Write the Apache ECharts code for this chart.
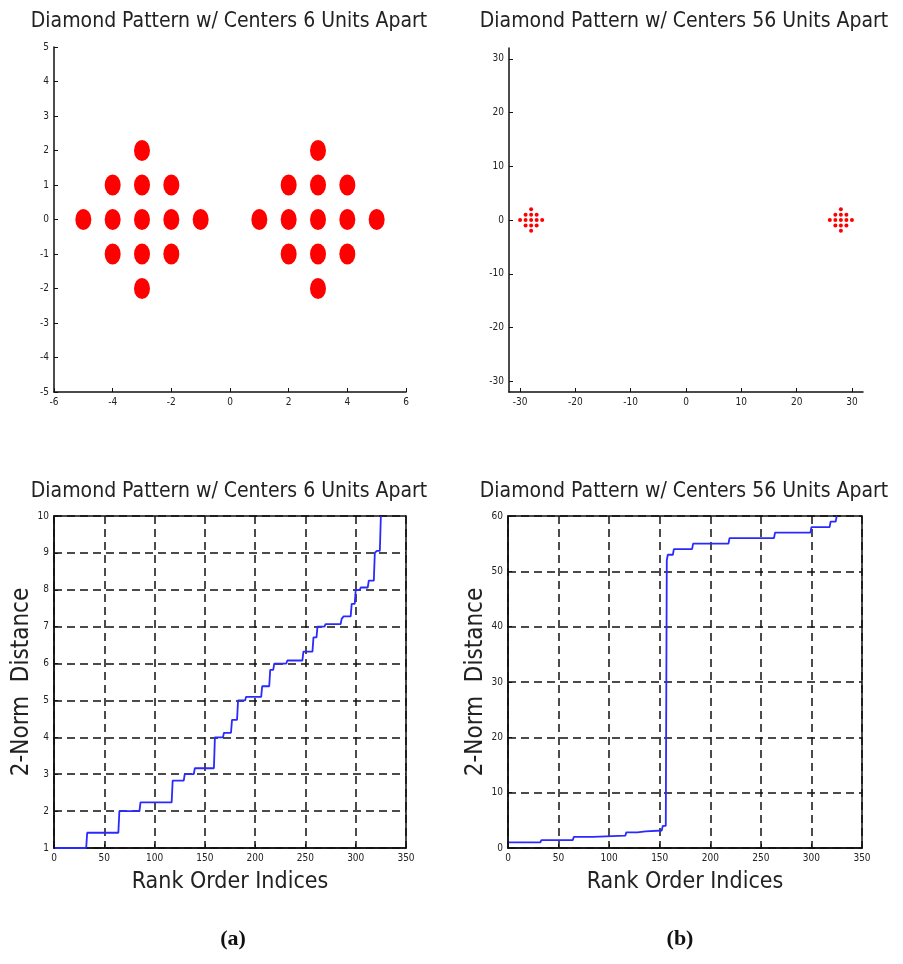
<!DOCTYPE html>
<html>
<head>
<meta charset="utf-8">
<script src="https://cdn.jsdelivr.net/npm/echarts@6/dist/echarts.min.js"></script>
<style>
  html, body { margin: 0; padding: 0; background: #fff; }
  #chart { width: 903px; height: 964px; }
</style>
</head>
<body>
<div id="chart"></div>
<script>
// diamond points, centers 6 units apart
const pts6X = [-3, -4, -3, -2, -5, -4, -3, -2, -1, -4, -3, -2, -3,
               3, 2, 3, 4, 1, 2, 3, 4, 5, 2, 3, 4, 3]
const pts6Y = [2, 1, 1, 1, 0, 0, 0, 0, 0, -1, -1, -1, -2,
               2, 1, 1, 1, 0, 0, 0, 0, 0, -1, -1, -1, -2]

// diamond points, centers 56 units apart
const pts56X = [-28, -29, -28, -27, -30, -29, -28, -27, -26, -29, -28, -27, -28,
                28, 27, 28, 29, 26, 27, 28, 29, 30, 27, 28, 29, 28]
const pts56Y = [2, 1, 1, 1, 0, 0, 0, 0, 0, -1, -1, -1, -2,
                2, 1, 1, 1, 0, 0, 0, 0, 0, -1, -1, -1, -2]

// sorted 2-norm distances: level and how many ranks sit on it
const dist6 = [1, 1.414, 2, 2.236, 2.828, 3, 3.162, 4, 4.123, 4.472, 5, 5.099, 5.385, 5.831,
               6, 6.083, 6.325, 6.708, 7, 7.071, 7.211, 7.28, 7.616, 8, 8.062, 8.246, 9, 9.055, 10]
const count6 = [32, 32, 21, 32, 12, 10, 20, 9, 8, 6, 8, 16, 8, 4,
                13, 16, 10, 4, 8, 16, 2, 8, 4, 5, 8, 6, 2, 4, 1]

const dist56 = [1, 1.414, 2, 2.236, 2.828, 3, 3.162, 4, 52, 53, 54, 55, 56, 57, 58, 59, 60]
const count56 = [32, 32, 20, 32, 12, 8, 16, 4, 1, 6, 19, 36, 45, 36, 19, 6, 1]

const ticks56 = [-30, -20, -10, 0, 10, 20, 30]

const titles = [
  'Diamond Pattern w/ Centers 6 Units Apart',
  'Diamond Pattern w/ Centers 56 Units Apart',
]

const FONT = "'Liberation Sans Narrow', 'DejaVu Sans Condensed', 'Liberation Sans', sans-serif"

// runs -> polyline points (rank, distance)
function rankLine(levels, counts) {
  const out = []
  let start = 1
  levels.forEach((v, i) => {
    const end = start + counts[i] - 1
    out.push([start, v])
    if (end > start) out.push([end, v])
    start = end + 1
  })
  return out
}

const zipPts = (xs, ys) => xs.map((x, i) => [x, ys[i]])

const labelStyle = { fontFamily: FONT, fontSize: 10, color: '#222' }

function plainAxis(gridIndex, min, max, extra) {
  return Object.assign({
    type: 'value',
    gridIndex,
    min,
    max,
    axisLine: { onZero: false, lineStyle: { color: '#111', width: 1.5 } },
    axisTick: { inside: true, length: 4, lineStyle: { color: '#111', width: 1 } },
    axisLabel: { ...labelStyle, margin: 5 },
    splitLine: { show: false },
  }, extra)
}

function gridAxis(gridIndex, min, max, interval, name, nameGap, nameSize) {
  return {
    type: 'value',
    gridIndex,
    min,
    max,
    interval,
    name,
    nameLocation: 'middle',
    nameGap,
    nameTextStyle: { fontFamily: FONT, fontSize: nameSize, color: '#222' },
    axisLine: { onZero: false, lineStyle: { color: '#111', width: 1.5 } },
    axisTick: { inside: true, length: 4, lineStyle: { color: '#111' } },
    axisLabel: { ...labelStyle, margin: 5 },
    splitLine: { show: true, lineStyle: { color: '#111', width: 1.5, type: [8, 5] } },
  }
}

const chart = echarts.init(document.getElementById('chart'))

const titleText = (text, x, y) => ({
  type: 'text',
  x,
  y,
  style: {
    text,
    font: `21px ${FONT}`,
    fill: '#222',
    textAlign: 'center',
    textVerticalAlign: 'middle',
  },
})

const option = {
  backgroundColor: '#fff',
  animation: false,
  grid: [
    { left: 54, top: 47, width: 352, height: 345 },
    { left: 509, top: 48, width: 354, height: 344 },
    { left: 54, top: 516, width: 352, height: 332, show: true, borderColor: '#111', borderWidth: 1.5 },
    { left: 508, top: 516, width: 354, height: 332, show: true, borderColor: '#111', borderWidth: 1.5 },
  ],
  xAxis: [
    plainAxis(0, -6, 6, { interval: 2 }),
    plainAxis(1, -32, 32, {
      axisTick: { inside: true, length: 4, customValues: ticks56, lineStyle: { color: '#111' } },
      axisLabel: { ...labelStyle, margin: 5, customValues: ticks56 },
    }),
    gridAxis(2, 0, 350, 50, 'Rank Order Indices', 23, 23),
    gridAxis(3, 0, 350, 50, 'Rank Order Indices', 23, 23),
  ],
  yAxis: [
    plainAxis(0, -5, 5, { interval: 1 }),
    plainAxis(1, -32, 32, {
      axisTick: { inside: true, length: 4, customValues: ticks56, lineStyle: { color: '#111' } },
      axisLabel: { ...labelStyle, margin: 5, customValues: ticks56 },
    }),
    gridAxis(2, 1, 10, 1, '2-Norm  Distance', 19, 24),
    gridAxis(3, 0, 60, 10, '2-Norm  Distance', 19, 24),
  ],
  series: [
    {
      type: 'scatter',
      xAxisIndex: 0,
      yAxisIndex: 0,
      symbol: 'circle',
      symbolSize: [16, 21],
      itemStyle: { color: '#ff0000', opacity: 1 },
      data: zipPts(pts6X, pts6Y),
    },
    {
      type: 'scatter',
      xAxisIndex: 1,
      yAxisIndex: 1,
      symbol: 'circle',
      symbolSize: 4,
      itemStyle: { color: '#ff0000', opacity: 1 },
      data: zipPts(pts56X, pts56Y),
    },
    {
      type: 'line',
      xAxisIndex: 2,
      yAxisIndex: 2,
      showSymbol: false,
      lineStyle: { color: '#2a2aff', width: 1.8 },
      data: rankLine(dist6, count6),
    },
    {
      type: 'line',
      xAxisIndex: 3,
      yAxisIndex: 3,
      showSymbol: false,
      lineStyle: { color: '#2a2aff', width: 1.8 },
      data: rankLine(dist56, count56),
    },
  ],
  graphic: [
    titleText(titles[0], 229, 22),
    titleText(titles[1], 684, 22),
    titleText(titles[0], 229, 492),
    titleText(titles[1], 684, 492),
    {
      type: 'text', x: 233, y: 939,
      style: { text: '(a)', font: "bold 22px 'Liberation Serif', serif", fill: '#111', textAlign: 'center', textVerticalAlign: 'middle' },
    },
    {
      type: 'text', x: 680, y: 939,
      style: { text: '(b)', font: "bold 22px 'Liberation Serif', serif", fill: '#111', textAlign: 'center', textVerticalAlign: 'middle' },
    },
  ],
}

chart.setOption(option)
</script>
</body>
</html>
